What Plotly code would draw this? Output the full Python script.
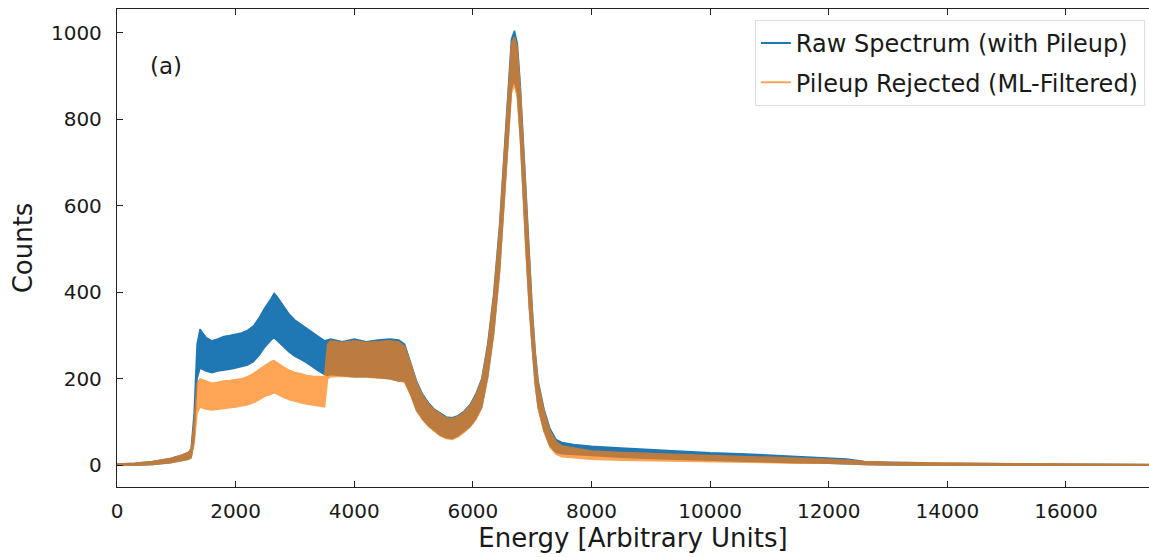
import plotly.graph_objects as go

# Energy sample positions (arbitrary units)
energy = [0, 300, 600, 900, 1100, 1200, 1250, 1300, 1350, 1400, 1500, 1600, 1700, 1800,
          1900, 2000, 2100, 2200, 2300, 2400, 2500, 2600, 2650, 2700, 2800, 2900, 3000,
          3100, 3200, 3300, 3400, 3500, 3550, 3600, 3800, 4000, 4200, 4400, 4600, 4750,
          4850, 4950, 5050, 5150, 5250, 5350, 5450, 5550, 5650, 5750, 5850, 5950, 6050,
          6150, 6250, 6350, 6450, 6550, 6600, 6650, 6700, 6750, 6800, 6850, 6900, 6950,
          7000, 7050, 7100, 7200, 7300, 7400, 7500, 7700, 8000, 8500, 9000, 9500, 10000,
          10500, 11000, 11500, 12000, 12300, 12600, 13000, 14000, 15000, 16000, 17400]

# Raw spectrum (with pileup): lower / upper extent of the noisy trace
raw_low = [0, 0, 2, 6, 11, 14, 18, 60, 200, 225, 218, 214, 218, 220,
           222, 225, 228, 232, 240, 255, 275, 290, 295, 290, 275, 262, 252,
           245, 237, 228, 218, 210, 208, 210, 208, 205, 205, 203, 200, 195,
           195, 165, 128, 108, 92, 80, 70, 64, 62, 68, 78, 90, 108,
           135, 205, 305, 450, 660, 770, 870, 890, 860, 760, 630, 490, 370,
           275, 190, 135, 80, 45, 30, 27, 25, 22, 19, 16, 13, 11,
           9, 8, 6, 5, 4, 2, 1, 0, 0, 0, 0]
raw_high = [3, 5, 9, 16, 24, 30, 38, 120, 280, 315, 296, 288, 292, 298,
            300, 303, 306, 312, 322, 342, 366, 386, 398, 390, 370, 350, 336,
            326, 318, 306, 296, 288, 290, 292, 286, 292, 286, 290, 292, 290,
            280, 240, 195, 165, 145, 130, 120, 112, 110, 115, 125, 140, 165,
            200, 280, 395, 555, 780, 890, 985, 1005, 975, 880, 750, 600, 470,
            365, 265, 195, 130, 85, 60, 53, 48, 44, 40, 36, 32, 29,
            27, 24, 21, 18, 15, 9, 7, 5, 4, 3, 2]

# Pileup rejected (ML-filtered): lower / upper extent of the noisy trace
filt_low = [0, 0, 2, 6, 11, 14, 18, 50, 120, 135, 130, 128, 130, 132,
            133, 135, 137, 140, 145, 152, 160, 165, 168, 165, 158, 152, 148,
            145, 142, 139, 137, 135, 200, 205, 206, 204, 204, 202, 200, 195,
            192, 163, 126, 106, 90, 78, 68, 62, 60, 66, 76, 88, 106,
            133, 203, 302, 445, 655, 765, 860, 880, 850, 755, 625, 485, 365,
            272, 188, 132, 78, 42, 26, 20, 18, 14, 12, 10, 9, 8,
            7, 6, 5, 5, 4, 2, 1, 0, 0, 0, 0]
filt_high = [3, 5, 9, 16, 24, 30, 38, 100, 190, 200, 195, 190, 192, 195,
             196, 198, 200, 205, 212, 222, 232, 240, 242, 238, 228, 220, 215,
             212, 208, 206, 205, 205, 280, 288, 284, 288, 284, 286, 288, 285,
             275, 236, 192, 162, 142, 128, 118, 110, 108, 113, 123, 138, 162,
             198, 276, 390, 550, 775, 885, 975, 990, 965, 870, 745, 595, 465,
             360, 262, 192, 126, 80, 55, 45, 40, 33, 30, 27, 25, 23,
             21, 19, 16, 14, 12, 9, 7, 5, 4, 3, 2]

x_ticks = [0, 2000, 4000, 6000, 8000, 10000, 12000, 14000, 16000]
y_ticks = [0, 200, 400, 600, 800, 1000]

BLUE = "#1f77b4"
ORANGE = "#ff7f0e"
FONT = "DejaVu Sans"
TXT = "#1a1a1a"

fig = go.Figure()

# Raw spectrum band
fig.add_trace(go.Scatter(
    x=energy + energy[::-1], y=raw_high + raw_low[::-1],
    fill="toself", fillcolor=BLUE, mode="lines",
    line=dict(color=BLUE, width=1.5), showlegend=False, hoverinfo="skip"))
# Filtered spectrum band (semi-transparent orange)
fig.add_trace(go.Scatter(
    x=energy + energy[::-1], y=filt_high + filt_low[::-1],
    fill="toself", fillcolor=ORANGE, mode="lines", opacity=0.7,
    line=dict(color=ORANGE, width=1.5), showlegend=False, hoverinfo="skip"))

# Legend entries
fig.add_trace(go.Scatter(x=[None], y=[None], mode="lines", name="Raw Spectrum (with Pileup)",
                         line=dict(color=BLUE, width=2), legendgroup="a"))
fig.add_trace(go.Scatter(x=[None], y=[None], mode="lines", name="Pileup Rejected (ML-Filtered)",
                         line=dict(color=ORANGE, width=2), opacity=0.7, legendgroup="b"))

fig.add_annotation(x=0.030, y=0.88, xref="paper", yref="paper", text="(a)",
                   showarrow=False, xanchor="left", yanchor="middle",
                   font=dict(family=FONT, size=23, color=TXT))

axis_common = dict(
    showline=True, linecolor="#222", linewidth=1.3,
    ticks="inside", ticklen=6, tickwidth=1.2, tickcolor="#222",
    showgrid=False, zeroline=False,
    tickfont=dict(family=FONT, size=20, color=TXT),
)

fig.update_xaxes(range=[0, 17400], tickvals=x_ticks, ticktext=[str(v) for v in x_ticks],
                 mirror="ticks",
                 title=dict(text="Energy [Arbitrary Units]", font=dict(family=FONT, size=26, color=TXT),
                            standoff=4),
                 ticklabelstandoff=6, **axis_common)
fig.update_yaxes(range=[-50, 1055], tickvals=y_ticks, ticktext=[str(v) for v in y_ticks],
                 mirror=False,
                 title=dict(text="Counts", font=dict(family=FONT, size=26, color=TXT), standoff=10),
                 ticklabelstandoff=10, **axis_common)

fig.update_layout(
    width=1149, height=557,
    margin=dict(l=117, r=0, t=9, b=70),
    paper_bgcolor="white", plot_bgcolor="white",
    legend=dict(x=0.996, y=0.977, xanchor="right", yanchor="top",
                bgcolor="rgba(255,255,255,0.85)", bordercolor="#dddddd", borderwidth=1,
                font=dict(family=FONT, size=24, color=TXT),
                traceorder="grouped", tracegroupgap=5),
    font=dict(family=FONT),
)

fig.write_html("out.html")
